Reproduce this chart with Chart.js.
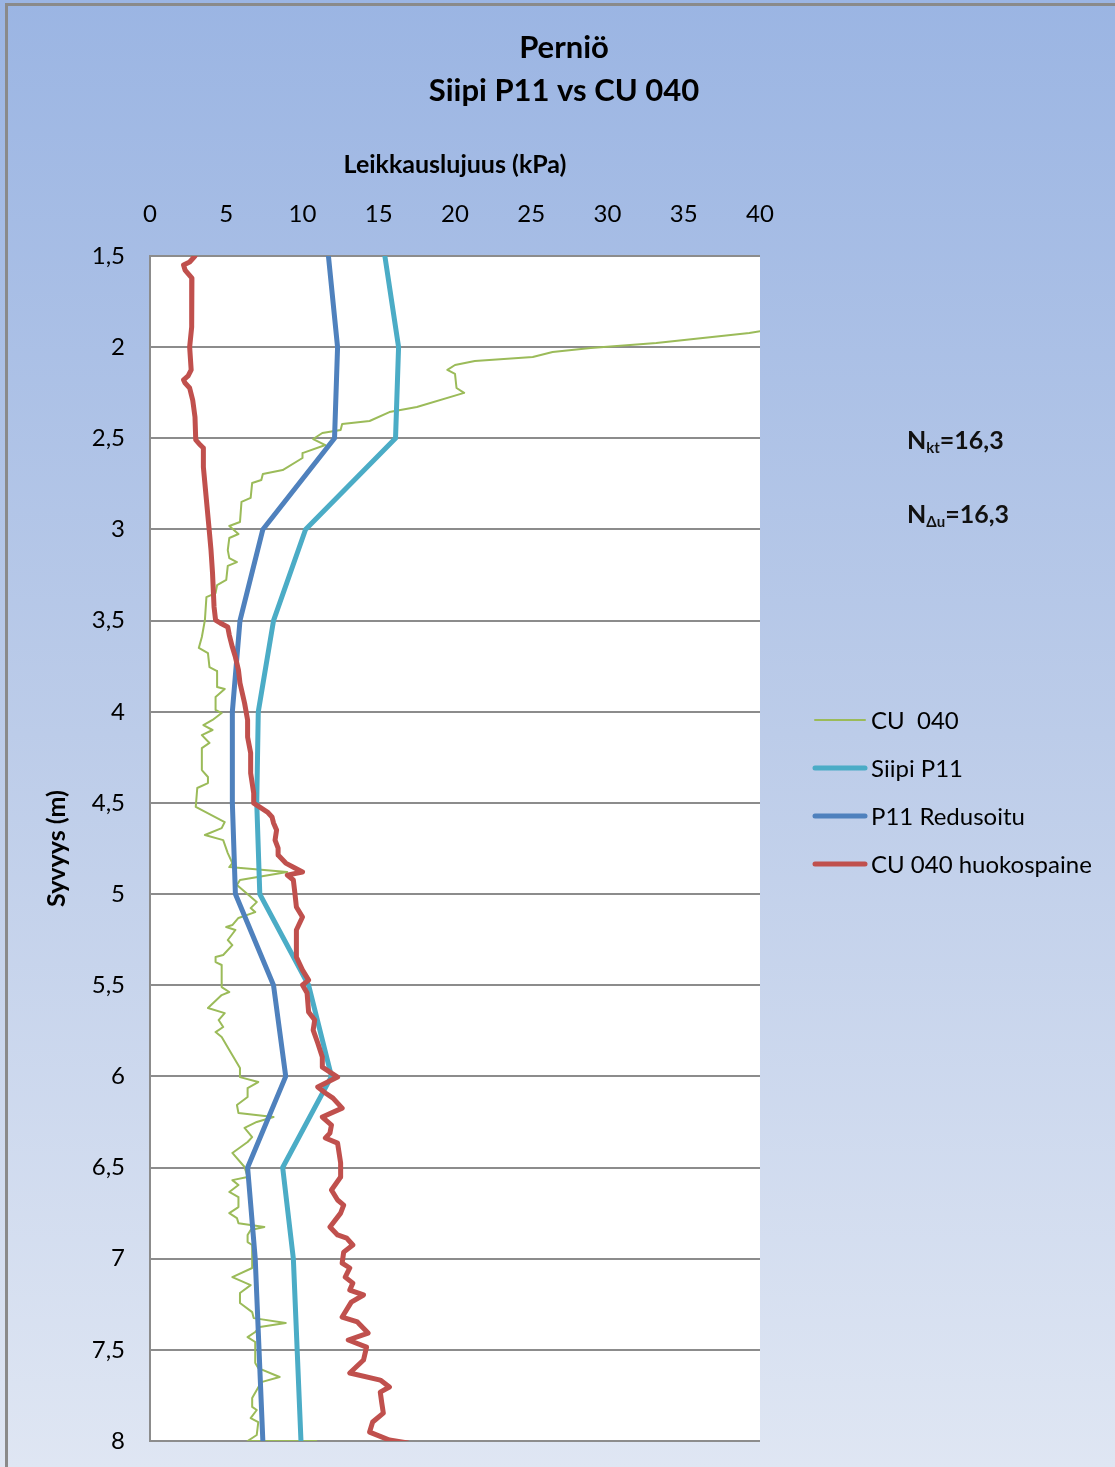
<!DOCTYPE html>
<html>
<head>
<meta charset="utf-8">
<title>Perniö – Siipi P11 vs CU 040</title>
<script src="https://cdn.jsdelivr.net/npm/chart.js@4.4.1/dist/chart.umd.min.js"></script>
<style>
  html, body { margin: 0; padding: 0; background: #ffffff; overflow: hidden; }
  canvas { display: block; }
</style>
</head>
<body>
<canvas id="chart" width="1115" height="1467"></canvas>
<script>
// ---- Texts ----
const titleLines = ['Perniö', 'Siipi P11 vs CU 040'];
const xAxisTitle = 'Leikkauslujuus (kPa)';
const yAxisTitle = 'Syvyys (m)';
const seriesNames = ['CU  040', 'Siipi P11', 'P11 Redusoitu', 'CU 040 huokospaine'];
const factorNotes = [
  { main: 'N', sub: 'kt', rest: '=16,3' },
  { main: 'N', sub: 'Δu', rest: '=16,3' }
];

// ---- Axis ranges (kPa across, depth in metres down) ----
const strengthMin = 0, strengthMax = 40, strengthStep = 5;
const depthMin = 1.5, depthMax = 8, depthStep = 0.5;

// ---- CU 040 (cone test, undrained shear strength) ----
const cuDepth = [
  1.911, 1.922, 1.977, 2.005, 2.027, 2.054, 2.076, 2.098, 2.125, 2.147, 2.224, 2.251,
  2.328, 2.356, 2.405, 2.422, 2.454, 2.471, 2.504, 2.537, 2.581, 2.608, 2.674, 2.696,
  2.729, 2.745, 2.827, 2.849, 2.959, 2.981, 3.025, 3.047, 3.113, 3.157, 3.179, 3.200,
  3.277, 3.305, 3.349, 3.371, 3.497, 3.590, 3.650, 3.678, 3.755, 3.777, 3.864, 3.875,
  3.919, 3.990, 4.007, 4.045, 4.073, 4.100, 4.128, 4.171, 4.199, 4.320, 4.358, 4.391,
  4.418, 4.522, 4.605, 4.638, 4.676, 4.704, 4.775, 4.830, 4.852, 4.879, 4.923, 4.950,
  5.044, 5.077, 5.099, 5.131, 5.170, 5.181, 5.197, 5.252, 5.280, 5.334, 5.345, 5.373,
  5.389, 5.510, 5.537, 5.554, 5.625, 5.653, 5.691, 5.729, 5.757, 5.784, 5.855, 5.954,
  6.004, 6.031, 6.064, 6.113, 6.157, 6.201, 6.223, 6.250, 6.283, 6.333, 6.360, 6.420,
  6.497, 6.552, 6.569, 6.596, 6.634, 6.662, 6.717, 6.750, 6.777, 6.805, 6.826, 6.843,
  6.870, 6.909, 6.925, 7.051, 7.101, 7.145, 7.188, 7.243, 7.293, 7.326, 7.353, 7.375,
  7.402, 7.430, 7.457, 7.572, 7.600, 7.649, 7.677, 7.764, 7.813, 7.830, 7.874, 7.896,
  7.967, 8.000, 8.000
];
const cuValue = [
  40.1, 39.3, 33.2, 28.9, 26.4, 25.1, 21.3, 20.0, 19.5, 20.0, 20.1, 20.6,
  17.5, 15.7, 14.4, 12.6, 12.5, 11.3, 10.7, 11.5, 10.0, 10.0, 8.7, 7.4,
  7.3, 6.7, 6.6, 6.0, 5.9, 5.2, 5.8, 5.2, 5.1, 5.2, 5.7, 5.1,
  5.0, 4.4, 4.3, 3.7, 3.6, 3.4, 3.2, 3.8, 3.9, 4.4, 4.4, 4.9,
  4.3, 4.3, 4.7, 4.1, 3.5, 4.1, 3.4, 3.9, 3.4, 3.4, 3.8, 3.8,
  3.1, 3.0, 4.9, 4.7, 3.6, 4.8, 5.1, 5.4, 5.2, 9.0, 5.9, 5.7,
  7.0, 6.6, 6.9, 5.8, 5.4, 5.0, 5.6, 5.1, 5.4, 4.8, 4.3, 4.3,
  4.7, 4.7, 5.2, 4.7, 3.8, 4.9, 4.5, 4.8, 4.3, 4.7, 5.2, 5.9,
  5.9, 7.1, 6.4, 6.4, 5.7, 5.8, 8.1, 7.0, 6.2, 6.7, 6.4, 5.4,
  6.2, 6.4, 5.4, 5.8, 5.2, 5.8, 5.8, 5.2, 5.7, 5.8, 7.5, 6.6,
  6.4, 6.4, 6.7, 6.7, 5.4, 6.6, 5.9, 5.9, 6.7, 6.8, 8.9, 7.2,
  6.9, 6.4, 6.9, 6.9, 7.1, 8.5, 7.3, 6.7, 6.7, 7.0, 6.6, 7.1,
  7.0, 6.4, 10.9
];

// ---- Siipi P11 (vane test) and its reduced values ----
const vaneDepth = [1.5, 2.0, 2.5, 3.0, 3.5, 4.0, 4.5, 5.0, 5.5, 6.0, 6.5, 7.0, 8.0];
const vaneValue = [15.4, 16.3, 16.1, 10.2, 8.1, 7.1, 7.0, 7.2, 10.4, 11.9, 8.7, 9.4, 9.9];
const reducedValue = [11.7, 12.3, 12.1, 7.4, 5.9, 5.4, 5.4, 5.6, 8.1, 8.9, 6.4, 6.9, 7.4];

// ---- CU 040 pore pressure based strength ----
const poreDepth = [
  1.500, 1.533, 1.549, 1.577, 1.621, 1.648, 1.835, 1.889, 1.999, 2.125, 2.158, 2.180,
  2.197, 2.224, 2.290, 2.383, 2.509, 2.537, 2.553, 2.657, 2.838, 3.019, 3.113, 3.239,
  3.425, 3.497, 3.513, 3.535, 3.579, 3.645, 3.700, 3.771, 3.842, 3.952, 4.045, 4.139,
  4.226, 4.336, 4.446, 4.501, 4.523, 4.550, 4.577, 4.610, 4.649, 4.704, 4.748, 4.786,
  4.830, 4.857, 4.879, 4.896, 4.923, 4.994, 5.071, 5.126, 5.197, 5.269, 5.345, 5.417,
  5.472, 5.499, 5.543, 5.647, 5.691, 5.746, 5.817, 5.894, 5.949, 6.004, 6.058, 6.091,
  6.119, 6.174, 6.223, 6.267, 6.311, 6.338, 6.366, 6.475, 6.552, 6.623, 6.678, 6.706,
  6.750, 6.826, 6.870, 6.887, 6.925, 6.964, 7.024, 7.051, 7.101, 7.134, 7.172, 7.199,
  7.238, 7.320, 7.347, 7.408, 7.446, 7.485, 7.556, 7.627, 7.666, 7.704, 7.732, 7.792,
  7.847, 7.896, 7.951, 7.995, 8.011
];
const poreValue = [
  2.95, 2.6, 2.2, 2.3, 2.75, 2.75, 2.75, 2.7, 2.6, 2.7, 2.5, 2.2,
  2.3, 2.6, 2.8, 2.95, 3.0, 3.3, 3.5, 3.5, 3.7, 3.9, 4.0, 4.1,
  4.2, 4.3, 4.6, 5.1, 5.2, 5.4, 5.6, 5.8, 5.9, 6.2, 6.4, 6.4,
  6.6, 6.6, 6.8, 6.8, 7.2, 7.7, 8.0, 8.1, 8.3, 8.2, 8.4, 8.4,
  8.9, 9.5, 10.0, 9.0, 9.4, 9.5, 9.6, 10.0, 9.6, 9.6, 9.6, 10.0,
  10.4, 10.0, 10.3, 10.4, 10.8, 10.7, 11.0, 11.3, 11.3, 12.3, 11.0, 11.5,
  12.0, 12.6, 11.3, 11.9, 11.8, 11.5, 12.3, 12.5, 12.5, 11.9, 12.3, 12.7,
  12.5, 11.8, 12.3, 12.9, 13.3, 12.7, 12.6, 13.1, 12.8, 13.3, 13.1, 14.0,
  13.2, 12.6, 13.6, 14.3, 13.0, 14.2, 14.0, 13.1, 15.1, 15.7, 15.1, 15.2,
  15.3, 14.6, 14.4, 15.7, 16.9
];

// Pair a value column with its depth column as {x, y} points.
function profile(values, depths) {
  return values.map((v, i) => ({ x: v, y: depths[i] }));
}

const FONT = 'Lato, "Open Sans", sans-serif';
const INK = '#000000';
const GRID = '#8c8c8c';

// Full-canvas blue gradient, frame and white plot area.
const backdrop = {
  id: 'backdrop',
  beforeDraw(chart) {
    const { ctx, width, height, chartArea: a } = chart;
    ctx.save();
    const g = ctx.createLinearGradient(0, 0, 0, height);
    g.addColorStop(0, '#9bb5e3');
    g.addColorStop(0.5, '#bccce9');
    g.addColorStop(1, '#dfe6f3');
    ctx.fillStyle = g;
    ctx.fillRect(0, 0, width, height);
    ctx.strokeStyle = '#8a8a8a';
    ctx.lineWidth = 3;
    ctx.strokeRect(6.5, 4.5, width + 20, height + 20);
    ctx.fillStyle = '#ffffff';
    ctx.fillRect(a.left, a.top, a.right - a.left, a.bottom - a.top);
    ctx.restore();
  }
};

// Title, legend and cone factor notes.
const decorations = {
  id: 'decorations',
  afterDraw(chart) {
    const { ctx } = chart;
    ctx.save();
    ctx.fillStyle = INK;
    ctx.textAlign = 'center';
    ctx.textBaseline = 'middle';
    ctx.font = 'bold 31px ' + FONT;
    ctx.fillText(titleLines[0], 564, 48);
    ctx.fillText(titleLines[1], 564, 91);

    // legend
    const rows = [720, 768, 816, 864];
    chart.data.datasets.forEach((ds, i) => {
      const y = rows[i];
      ctx.strokeStyle = ds.borderColor;
      ctx.lineWidth = ds.borderWidth;
      ctx.lineCap = 'round';
      ctx.beginPath();
      ctx.moveTo(815, y);
      ctx.lineTo(865, y);
      ctx.stroke();
      ctx.fillStyle = INK;
      ctx.textAlign = 'left';
      ctx.font = '24px ' + FONT;
      ctx.fillText(ds.label, 871, y + 1);
    });

    // N factors with subscripts
    const noteRows = [441, 515];
    factorNotes.forEach((n, i) => {
      let x = 907;
      const y = noteRows[i];
      ctx.fillStyle = '#111111';
      ctx.textAlign = 'left';
      ctx.textBaseline = 'middle';
      ctx.font = 'bold 25px ' + FONT;
      ctx.fillText(n.main, x, y);
      x += ctx.measureText(n.main).width;
      ctx.font = 'bold 15px ' + FONT;
      ctx.fillText(n.sub, x, y + 7);
      x += ctx.measureText(n.sub).width;
      ctx.font = 'bold 25px ' + FONT;
      ctx.fillText(n.rest, x, y);
    });
    ctx.restore();
  }
};

const data = {
  datasets: [
    {
      label: seriesNames[0],
      data: profile(cuValue, cuDepth),
      borderColor: '#9bbb59',
      borderWidth: 2,
      order: 4
    },
    {
      label: seriesNames[1],
      data: profile(vaneValue, vaneDepth),
      borderColor: '#4bacc6',
      borderWidth: 5,
      order: 3
    },
    {
      label: seriesNames[2],
      data: profile(reducedValue, vaneDepth),
      borderColor: '#4f81bd',
      borderWidth: 5,
      order: 2
    },
    {
      label: seriesNames[3],
      data: profile(poreValue, poreDepth),
      borderColor: '#c0504d',
      borderWidth: 5,
      order: 1
    }
  ]
};
data.datasets.forEach(ds => {
  ds.showLine = true;
  ds.pointRadius = 0;
  ds.pointHoverRadius = 0;
  ds.fill = false;
  ds.tension = 0;
  ds.borderJoinStyle = 'round';
  ds.borderCapStyle = 'round';
});

new Chart(document.getElementById('chart'), {
  type: 'scatter',
  data,
  plugins: [backdrop, decorations],
  options: {
    responsive: false,
    animation: false,
    events: [],
    layout: { padding: { top: 0, left: 0, right: 355, bottom: 26 } },
    plugins: {
      legend: { display: false },
      title: { display: false },
      tooltip: { enabled: false }
    },
    scales: {
      x: {
        type: 'linear',
        position: 'top',
        min: strengthMin,
        max: strengthMax,
        afterFit(scale) {
          scale.height = 256;
          scale.paddingLeft = 0;
          scale.paddingRight = 0;
        },
        ticks: {
          stepSize: strengthStep,
          color: INK,
          padding: 27,
          font: { family: FONT, size: 24 }
        },
        grid: { display: false, drawTicks: false },
        border: { display: false },
        title: {
          display: true,
          text: xAxisTitle,
          color: INK,
          font: { family: FONT, size: 25, weight: 'bold' },
          padding: { top: 150, bottom: 0 }
        }
      },
      y: {
        type: 'linear',
        reverse: true,
        min: depthMin,
        max: depthMax,
        afterFit(scale) {
          scale.width = 150;
          scale.paddingTop = 0;
          scale.paddingBottom = 0;
        },
        ticks: {
          stepSize: depthStep,
          color: INK,
          padding: 25,
          font: { family: FONT, size: 24 },
          callback: v => String(v).replace('.', ',')
        },
        grid: { color: GRID, lineWidth: 2, drawTicks: false },
        border: { display: true, color: GRID, width: 2 },
        title: {
          display: true,
          text: yAxisTitle,
          color: INK,
          font: { family: FONT, size: 25, weight: 'bold' },
          padding: { top: 42, bottom: 0 }
        }
      }
    }
  }
});
</script>
</body>
</html>
